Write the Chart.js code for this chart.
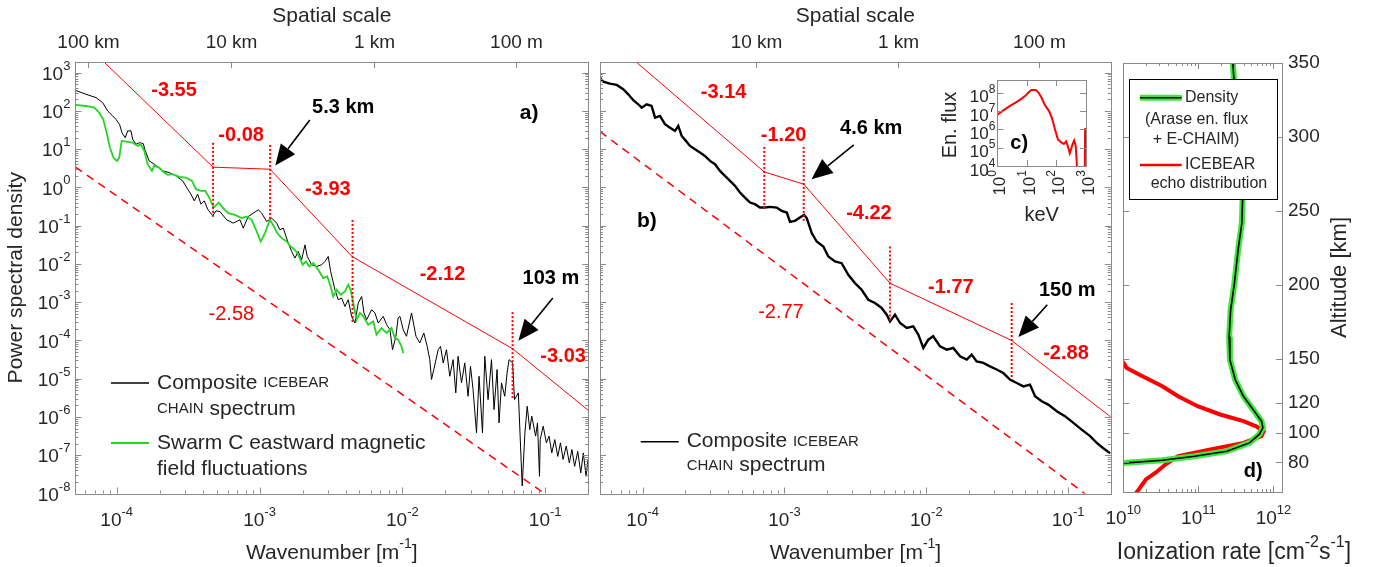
<!DOCTYPE html>
<html>
<head>
<meta charset="utf-8">
<script src="https://cdn.jsdelivr.net/npm/chart.js@4.4.1/dist/chart.umd.min.js"></script>
<style>
  html, body { margin: 0; padding: 0; background: #fff; }
  #wrap { position: relative; width: 1375px; height: 567px; overflow: hidden; background: #fff; }
  canvas { position: absolute; }
</style>
</head>
<body>
<div id="wrap">
  <canvas id="cA" width="595" height="567" style="left:0;top:0"></canvas>
  <canvas id="cB" width="520" height="567" style="left:595px;top:0"></canvas>
  <canvas id="cD" width="287" height="567" style="left:1088px;top:0"></canvas>
  <canvas id="cC" width="155" height="175" style="left:940px;top:60px"></canvas>
</div>
<script>
// ---- data ----
// top axis: spatial scale (wavelength, m) and its labels
const scaleTicksA = [1e5, 1e4, 1e3, 100];
const scaleLabelsA = ['100 km', '10 km', '1 km', '100 m'];
const scaleTicksB = [1e4, 1e3, 100];
const scaleLabelsB = ['10 km', '1 km', '100 m'];

// a) composite ICEBEAR/CHAIN spectrum [wavenumber, PSD]
const psdA = [
  [5.13e-5, 346.7], [6.10e-5, 272.9], [7.16e-5, 223.9], [7.98e-5, 164.8], [8.65e-5, 100], [9.38e-5, 74.1],
  [9.89e-5, 60.3], [1.047e-4, 44.7], [1.089e-4, 26.9], [1.148e-4, 19.95], [1.194e-4, 30.2], [1.259e-4, 30.2],
  [1.294e-4, 18.2], [1.365e-4, 13.49], [1.439e-4, 14.79], [1.535e-4, 14.0], [1.585e-4, 9.04], [1.690e-4, 4.95],
  [1.832e-4, 4.06], [2.099e-4, 2.71], [2.333e-4, 2.45], [2.600e-4, 2.01], [2.897e-4, 1.486], [3.141e-4, 0.902],
  [3.311e-4, 0.668], [3.491e-4, 0.447], [3.690e-4, 0.668], [3.890e-4, 0.366], [4.102e-4, 0.447], [4.335e-4, 0.271],
  [4.699e-4, 0.182], [4.955e-4, 0.245], [5.284e-4, 0.234], [5.888e-4, 0.1426], [6.546e-4, 0.117], [7.295e-4, 0.1426],
  [7.691e-4, 0.0865], [8.337e-4, 0.1738], [9.036e-4, 0.2133], [9.795e-4, 0.26], [1.035e-3, 0.2133], [1.122e-3, 0.1288],
  [1.216e-3, 0.1585], [1.318e-3, 0.117], [1.390e-3, 0.0782], [1.466e-3, 0.0865], [1.589e-3, 0.0352], [1.679e-3, 0.0212],
  [1.770e-3, 0.01426], [1.866e-3, 0.0212], [1.972e-3, 0.01288], [2.080e-3, 0.0316], [2.158e-3, 0.0157], [2.317e-3, 0.00953],
  [2.512e-3, 0.00861], [2.723e-3, 0.00953], [2.871e-3, 0.01161], [3.027e-3, 0.0157], [3.148e-3, 0.00637], [3.373e-3, 0.00212],
  [3.556e-3, 0.00116], [3.758e-3, 0.00129], [3.963e-3, 7.76e-4], [4.178e-3, 1.16e-3], [4.416e-3, 4.27e-4], [4.656e-3, 2.86e-4],
  [4.909e-3, 9.55e-4], [5.188e-3, 1.41e-3], [5.383e-3, 5.25e-4], [5.623e-3, 3.49e-4], [6.095e-3, 6.37e-4], [6.427e-3, 5.25e-4],
  [6.776e-3, 2.86e-4], [7.345e-3, 4.27e-4], [7.762e-3, 2.59e-4], [8.185e-3, 1.91e-4], [8.531e-3, 5.75e-5], [9.016e-3, 1.29e-4],
  [9.333e-3, 3.89e-4], [9.616e-3, 4.27e-4], [1.014e-2, 1.91e-4], [1.069e-2, 1.29e-4], [1.159e-2, 5.25e-4], [1.245e-2, 1.29e-4],
  [1.324e-2, 8.61e-5], [1.413e-2, 1.57e-4], [1.493e-2, 7.01e-5], [1.556e-2, 3.16e-5], [1.600e-2, 9.55e-6], [1.660e-2, 1.74e-5],
  [1.782e-2, 5.75e-5], [1.849e-2, 7.01e-5], [1.932e-2, 2.59e-5], [2.037e-2, 5.75e-5], [2.148e-2, 1.16e-5], [2.265e-2, 3.16e-5],
  [2.366e-2, 4.27e-6], [2.455e-2, 3.85e-5], [2.594e-2, 7.76e-6], [2.735e-2, 2.59e-5], [2.884e-2, 3.47e-6], [2.999e-2, 2.11e-5],
  [3.126e-2, 5.2e-6], [3.304e-2, 3.85e-7], [3.443e-2, 1.16e-5], [3.639e-2, 3.85e-7], [3.776e-2, 3.85e-5], [3.981e-2, 2.84e-6],
  [4.207e-2, 3.16e-5], [4.385e-2, 1.56e-6], [4.603e-2, 1.74e-5], [4.753e-2, 7.01e-7], [4.943e-2, 7.76e-6], [5.212e-2, 3.47e-6],
  [5.408e-2, 1.41e-5], [5.585e-2, 3.16e-5], [5.916e-2, 2.59e-5], [6.095e-2, 2.84e-6], [6.486e-2, 4.27e-6], [6.902e-2, 1.58e-8],
  [7.211e-2, 3.85e-7], [7.482e-2, 1.91e-6], [7.798e-2, 4.68e-7], [8.054e-2, 1.05e-6], [8.570e-2, 3.16e-7], [8.831e-2, 7.01e-7],
  [9.120e-2, 2.82e-8], [9.226e-2, 2.57e-7], [9.683e-2, 5.75e-7], [0.1019, 2.11e-7], [0.1064, 3.16e-7], [0.1112, 1.15e-7],
  [0.1167, 2.57e-7], [0.1225, 9.33e-8], [0.1279, 2.11e-7], [0.1334, 7.76e-8], [0.1403, 1.74e-7], [0.1476, 6.31e-8],
  [0.1538, 1.41e-7], [0.1607, 5.13e-8], [0.1690, 1.26e-7], [0.1774, 3.47e-8], [0.1849, 1.15e-7], [0.1932, 2.82e-8],
  [0.1995, 7.76e-8]
];

// a) Swarm C eastward magnetic field fluctuations
const swarmA = [
  [5.13e-5, 143.5], [6.10e-5, 134.9], [6.97e-5, 121.9], [7.55e-5, 90.2], [8.05e-5, 60.3], [8.51e-5, 26.9],
  [8.97e-5, 10.96], [9.53e-5, 5.82], [1.005e-4, 4.95], [1.042e-4, 6.03], [1.084e-4, 16.48], [1.161e-4, 15.85],
  [1.294e-4, 14.79], [1.403e-4, 12.19], [1.479e-4, 13.49], [1.560e-4, 9.04], [1.648e-4, 4.06], [1.766e-4, 2.71],
  [1.832e-4, 3.66], [1.986e-4, 3.31], [2.153e-4, 2.45], [2.275e-4, 2.14], [2.466e-4, 2.22], [2.742e-4, 1.89],
  [3.055e-4, 1.82], [3.365e-4, 1.486], [3.589e-4, 0.902], [3.890e-4, 0.815], [4.169e-4, 0.815], [4.446e-4, 0.545],
  [4.775e-4, 0.2985], [5.176e-4, 0.4036], [5.572e-4, 0.2884], [6.039e-4, 0.2133], [6.730e-4, 0.1923], [7.499e-4, 0.1585],
  [8.128e-4, 0.1738], [8.810e-4, 0.1426], [9.550e-4, 0.0708], [1.019e-3, 0.0387], [1.091e-3, 0.0641], [1.183e-3, 0.1426],
  [1.262e-3, 0.0955], [1.330e-3, 0.0641], [1.429e-3, 0.0474], [1.549e-3, 0.0387], [1.652e-3, 0.0286], [1.770e-3, 0.0234],
  [1.866e-3, 0.01738], [2.004e-3, 0.00953], [2.113e-3, 0.01161], [2.228e-3, 0.00861], [2.377e-3, 0.01054], [2.576e-3, 0.00705],
  [2.793e-3, 0.00427], [2.979e-3, 0.00472], [3.148e-3, 0.00259], [3.281e-3, 0.00141], [3.467e-3, 0.00212], [3.698e-3, 0.00157],
  [3.963e-3, 0.00192], [4.178e-3, 0.00286], [4.345e-3, 0.00212], [4.529e-3, 9.55e-4], [4.786e-3, 3.49e-4], [5.047e-3, 5.25e-4],
  [5.321e-3, 4.27e-4], [5.754e-3, 2.59e-4], [6.252e-3, 3.16e-4], [6.592e-3, 1.42e-4], [7.145e-3, 2.12e-4], [7.762e-3, 1.57e-4],
  [8.395e-3, 2.12e-4], [8.872e-3, 1.16e-4], [9.333e-3, 1.05e-4], [9.863e-3, 7.01e-5], [1.014e-2, 4.68e-5]
];

// a) fitted power laws: broken line, dotted break markers [k, top, bottom], reference line
const fitA = [[5.14e-5, 1.0e4], [4.73e-4, 3.39], [1.186e-3, 3.0], [4.44e-3, 1.57e-2], [5.91e-2, 6.1e-5], [0.2, 1.5e-6]];
const breaksA = [[4.73e-4, 14.7, 0.17], [1.186e-3, 13, 0.14], [4.48e-3, 0.142, 2.86e-4], [5.91e-2, 5.5e-4, 3.16e-6]];
const refA = [[5.14e-5, 3.4], [0.11, 7.6e-9]];

// b) composite ICEBEAR/CHAIN spectrum
const psdB = [
  [5.0e-5, 741], [5.27e-5, 582], [5.87e-5, 516], [6.56e-5, 479], [7.29e-5, 369], [7.91e-5, 273],
  [8.59e-5, 190.5], [9.31e-5, 149.6], [9.84e-5, 121.9], [1.067e-4, 149.6], [1.156e-4, 134.9], [1.222e-4, 66.8],
  [1.324e-4, 74.1], [1.436e-4, 45.0], [1.560e-4, 36.6], [1.690e-4, 30.1], [1.782e-4, 40.6], [1.884e-4, 22.2],
  [2.018e-4, 16.5], [2.158e-4, 12.2], [2.339e-4, 10.0], [2.535e-4, 8.15], [2.748e-4, 6.68], [2.985e-4, 4.95],
  [3.236e-4, 4.06], [3.508e-4, 2.71], [3.802e-4, 2.01], [4.130e-4, 1.486], [4.477e-4, 1.102], [4.853e-4, 0.736],
  [5.260e-4, 0.545], [5.715e-4, 0.404], [6.194e-4, 0.366], [6.714e-4, 0.2985], [7.295e-4, 0.2985], [7.907e-4, 0.311],
  [8.810e-4, 0.2985], [9.550e-4, 0.245], [1.038e-3, 0.221], [1.094e-3, 0.126], [1.186e-3, 0.134], [1.285e-3, 0.164],
  [1.374e-3, 0.192], [1.435e-3, 0.158], [1.556e-3, 0.0641], [1.687e-3, 0.0387], [1.879e-3, 0.0286], [2.037e-3, 0.0157],
  [2.270e-3, 0.0116], [2.529e-3, 0.0105], [2.818e-3, 5.22e-3], [3.141e-3, 3.16e-3], [3.499e-3, 2.12e-3], [3.899e-3, 1.16e-3],
  [4.345e-3, 9.55e-4], [4.842e-3, 7.08e-4], [5.260e-3, 4.72e-4], [5.546e-3, 3.16e-4], [6.012e-3, 4.72e-4], [6.531e-3, 2.86e-4],
  [7.278e-3, 2.12e-4], [8.091e-3, 2.34e-4], [8.790e-3, 1.42e-4], [9.528e-3, 6.37e-5], [1.033e-2, 1.05e-4], [1.119e-2, 1.29e-4],
  [1.250e-2, 7.01e-5], [1.393e-2, 5.75e-5], [1.549e-2, 6.37e-5], [1.730e-2, 3.85e-5], [1.928e-2, 3.16e-5], [2.089e-2, 4.27e-5],
  [2.265e-2, 2.84e-5], [2.523e-2, 2.59e-5], [2.812e-2, 2.11e-5], [3.133e-2, 1.74e-5], [3.491e-2, 1.41e-5], [3.890e-2, 9.55e-6],
  [4.345e-2, 7.76e-6], [4.831e-2, 6.31e-6], [5.383e-2, 7.01e-6], [5.848e-2, 3.47e-6], [6.516e-2, 2.57e-6], [7.244e-2, 2.11e-6],
  [8.318e-2, 1.41e-6], [9.506e-2, 1.05e-6], [0.1089, 7.01e-7], [0.1247, 4.68e-7], [0.1429, 3.16e-7], [0.1592, 2.11e-7],
  [0.1762, 1.55e-7], [0.1982, 1.12e-7]
];
const fitB = [[5.0e-5, 1.23e4], [7.2e-4, 2.55], [1.366e-3, 1.22], [5.54e-3, 3.16e-3], [4.0e-2, 1.0e-4], [0.2, 1.0e-6]];
const breaksB = [[7.2e-4, 11.5, 0.271], [1.366e-3, 11.5, 0.134], [5.54e-3, 0.0286, 3.16e-4], [4.0e-2, 9.55e-4, 9.55e-6]];
const refB = [[5.0e-5, 28.8], [0.14, 8.3e-9]];

// c) Arase energy flux spectrum [keV, flux]
const fluxC = [
  [1, 6.3e6], [1.6, 1.1e7], [2.5, 1.8e7], [4, 2.8e7], [6.3, 4.5e7], [9, 7e7], [11, 1e8], [14, 1.4e8],
  [20, 1.4e8], [25, 1e8], [32, 5e7], [40, 2.2e7], [56, 1e7], [71, 4e6], [89, 1e6], [112, 2.8e5],
  [141, 2e5], [178, 1.6e5], [214, 2.2e5], [251, 1e5], [282, 5e4], [355, 1.6e5], [398, 2.5e5], [447, 1.3e5],
  [479, 2.5e4], [500, 5e3], [700, null], [912, 5e3], [933, 1.2e6]
];

// d) ionization / density profile and ICEBEAR echo distribution [rate, altitude km]
const altTicks = [80, 100, 120, 150, 200, 250, 300, 350];
const densityD = [
  [2.88e11, 350], [3.0e11, 336.5], [3.34e11, 314], [3.70e11, 300], [3.85e11, 280], [3.89e11, 260],
  [3.80e11, 242], [3.39e11, 224], [3.02e11, 201], [2.69e11, 183], [2.57e11, 165], [2.63e11, 149.5],
  [3.09e11, 136], [3.98e11, 124.7], [5.37e11, 115.7], [6.92e11, 107.9], [7.24e11, 103.4], [6.46e11, 98.9],
  [4.79e11, 93.2], [2.40e11, 87.6], [8.91e10, 84.2], [3.31e10, 81.5], [1.10e10, 79.7], [6.3e9, 79.0]
];
const icebearD = [
  [9.5e9, 149], [1.05e10, 146], [1.1e10, 144], [1.62e10, 139.4], [3.31e10, 131.5], [5.37e10, 124.7],
  [9.77e10, 118], [1.95e11, 112.4], [3.98e11, 107.9], [5.89e11, 104.4], [7.41e11, 101], [6.92e11, 97.7],
  [3.98e11, 93.2], [1.45e11, 88.7], [5.37e10, 84.2], [3.63e10, 78.6], [2.69e10, 73], [2.0e10, 68.5],
  [1.55e10, 60.6], [1.41e10, 58]
];

// ---- styling helpers ----
const FONT = '"Liberation Sans", Arial, Helvetica, sans-serif';
const INK = '#262626';
const AXIS = '#8a8a8a';
const RED = '#ff0000';
const GREEN = '#22d622';
const GREEN_D = '#3ee63e';

function xy(arr) { return arr.map(p => ({ x: p[0], y: p[1] })); }

// Chart.js paints dataset 0 last, so lists below go from top layer to bottom layer
function lineDs(points, color, width, dash) {
  return {
    data: xy(points), showLine: true, borderColor: color, borderWidth: width,
    borderDash: dash || [], pointRadius: 0, fill: false, tension: 0, spanGaps: false
  };
}

function dotted(list) {
  return list.map(d => lineDs([[d[0], d[1]], [d[0], d[2]]], RED, 2, [2, 2]));
}

function logAxis(min, max) {
  return { type: 'logarithmic', display: false, min: min, max: max };
}

function opts(xs, ys, pad) {
  return {
    responsive: false, animation: false, devicePixelRatio: 1, events: [],
    layout: { padding: pad },
    plugins: { legend: { display: false }, tooltip: { enabled: false } },
    scales: { x: xs, y: ys }
  };
}

function logSteps(min, max) {
  const out = [];
  for (let e = Math.floor(Math.log10(min)); e <= Math.ceil(Math.log10(max)); e++) {
    for (let m = 1; m < 10; m++) {
      const v = m * Math.pow(10, e);
      if (v >= min * 0.9999 && v <= max * 1.0001) out.push({ v: v, major: m === 1 });
    }
  }
  return out;
}

function frame(chart, xt, yt, xSides, ySides) {
  const { ctx, chartArea: a, scales: { x, y } } = chart;
  ctx.save();
  ctx.strokeStyle = AXIS; ctx.lineWidth = 1;
  ctx.beginPath();
  xt.forEach(t => {
    const X = Math.round(x.getPixelForValue(t.v)) + 0.5, L = t.major ? 6 : 3;
    if (xSides.includes('b')) { ctx.moveTo(X, a.bottom); ctx.lineTo(X, a.bottom - L); }
    if (xSides.includes('t')) { ctx.moveTo(X, a.top); ctx.lineTo(X, a.top + L); }
  });
  yt.forEach(t => {
    const Y = Math.round(y.getPixelForValue(t.v)) + 0.5, L = t.major ? 6 : 3;
    if (ySides.includes('l')) { ctx.moveTo(a.left, Y); ctx.lineTo(a.left + L, Y); }
    if (ySides.includes('r')) { ctx.moveTo(a.right, Y); ctx.lineTo(a.right - L, Y); }
  });
  ctx.stroke();
  ctx.strokeRect(Math.round(a.left) + 0.5, Math.round(a.top) + 0.5,
    Math.round(a.right) - Math.round(a.left), Math.round(a.bottom) - Math.round(a.top));
  ctx.restore();
}

function rich(ctx, parts, x, y, align, rot, color) {
  ctx.save();
  ctx.translate(x, y);
  if (rot) ctx.rotate(rot);
  ctx.textBaseline = 'middle'; ctx.textAlign = 'left'; ctx.fillStyle = color || INK;
  let w = 0;
  parts.forEach(p => { ctx.font = (p.b ? 'bold ' : '') + p.s + 'px ' + FONT; p.w = ctx.measureText(p.t).width; w += p.w; });
  let cx = align === 'center' ? -w / 2 : align === 'right' ? -w : 0;
  parts.forEach(p => { ctx.font = (p.b ? 'bold ' : '') + p.s + 'px ' + FONT; ctx.fillText(p.t, cx, p.dy || 0); cx += p.w; });
  ctx.restore();
}

function txt(ctx, s, x, y, size, o) {
  o = o || {};
  rich(ctx, [{ t: s, s: size, b: o.bold }], x, y, o.align || 'center', o.rot, o.color);
}

function pow(ctx, e, x, y, align, size, rot) {
  rich(ctx, [{ t: '10', s: size }, { t: String(e), s: Math.round(size * 0.7), dy: -size * 0.45 }], x, y, align, rot);
}

function note(chart, s, xv, yv, size, color, bold) {
  txt(chart.ctx, s, chart.scales.x.getPixelForValue(xv), chart.scales.y.getPixelForValue(yv), size, { color: color, bold: bold });
}

function arrow(chart, x0v, y0v, x1v, y1v) {
  const { ctx, scales: { x, y } } = chart;
  const x0 = x.getPixelForValue(x0v), y0 = y.getPixelForValue(y0v);
  const x1 = x.getPixelForValue(x1v), y1 = y.getPixelForValue(y1v);
  const ang = Math.atan2(y1 - y0, x1 - x0), hl = 21, hw = 9;
  const bx = x1 - hl * Math.cos(ang), by = y1 - hl * Math.sin(ang);
  ctx.save();
  ctx.strokeStyle = '#000'; ctx.lineWidth = 1.6;
  ctx.beginPath(); ctx.moveTo(x0, y0); ctx.lineTo(bx, by); ctx.stroke();
  ctx.fillStyle = '#000';
  ctx.beginPath(); ctx.moveTo(x1, y1);
  ctx.lineTo(bx + hw * Math.sin(ang), by - hw * Math.cos(ang));
  ctx.lineTo(bx - hw * Math.sin(ang), by + hw * Math.cos(ang));
  ctx.closePath(); ctx.fill();
  ctx.restore();
}

function legendLine(ctx, x0, x1, y, color, width) {
  ctx.save(); ctx.strokeStyle = color; ctx.lineWidth = width;
  ctx.beginPath(); ctx.moveTo(x0, y); ctx.lineTo(x1, y); ctx.stroke(); ctx.restore();
}

// shared axes decoration for the two spectrum panels
function spectrumAxes(chart, ticksLam, labelsLam, yLabels) {
  const { ctx, chartArea: a, scales: { x, y } } = chart;
  const xt = logSteps(x.min, x.max), yt = logSteps(y.min, y.max);
  frame(chart, xt, yt, 'b', 'lr');
  ctx.save(); ctx.strokeStyle = AXIS; ctx.beginPath();
  ticksLam.forEach((lam, i) => {
    const X = Math.round(x.getPixelForValue(2 * Math.PI / lam)) + 0.5;
    ctx.moveTo(X, a.top); ctx.lineTo(X, a.top + 6);
    txt(ctx, labelsLam[i], X, 43, 19);
  });
  ctx.stroke(); ctx.restore();
  xt.filter(t => t.major).forEach(t => pow(ctx, Math.round(Math.log10(t.v)), x.getPixelForValue(t.v), a.bottom + 27, 'center', 19));
  if (yLabels) yt.filter(t => t.major).forEach(t => pow(ctx, Math.round(Math.log10(t.v)), a.left - 5, y.getPixelForValue(t.v) + 2, 'right', 19));
  const cx = (a.left + a.right) / 2;
  txt(ctx, 'Spatial scale', cx, 16, 21);
  rich(ctx, [{ t: 'Wavenumber [m', s: 21 }, { t: '-1', s: 14, dy: -9 }, { t: ']', s: 21 }], cx, 553, 'center');
}

function icebearLegend(ctx, a, dx, dy, gap) {
  legendLine(ctx, a.left + dx, a.left + dx + 38, a.top + dy, '#000', 1.5);
  rich(ctx, [{ t: 'Composite ', s: 21 }, { t: 'ICEBEAR', s: 15 }], a.left + dx + 46, a.top + dy, 'left');
  rich(ctx, [{ t: 'CHAIN', s: 15 }, { t: ' spectrum', s: 21 }], a.left + dx + 46, a.top + dy + gap, 'left');
}

const decorators = {
  cA: function (chart) {
    const { ctx, chartArea: a } = chart;
    spectrumAxes(chart, scaleTicksA, scaleLabelsA, true);
    txt(ctx, 'Power spectral density', 16.5, (a.top + a.bottom) / 2, 21, { rot: -Math.PI / 2 });
    note(chart, '-3.55', 2.52e-4, 353, 20, RED, true);
    note(chart, '-0.08', 7.43e-4, 22.6, 20, RED, true);
    note(chart, '-3.93', 3.01e-3, 0.865, 20, RED, true);
    note(chart, '-2.12', 1.91e-2, 5.22e-3, 20, RED, true);
    note(chart, '-3.03', 0.1334, 3.85e-5, 20, RED, true);
    note(chart, '-2.58', 6.35e-4, 4.72e-4, 20, RED, false);
    note(chart, '5.3 km', 3.85e-3, 125, 20, '#000', true);
    note(chart, '103 m', 0.1096, 4.27e-3, 20, '#000', true);
    note(chart, 'a)', 7.71e-2, 87, 21, '#000', true);
    arrow(chart, 2.25e-3, 58.2, 1.29e-3, 3.73);
    arrow(chart, 0.113, 1.29e-3, 6.49e-2, 9.9e-5);
    icebearLegend(ctx, a, 35.6, 321, 26);
    legendLine(ctx, a.left + 35.6, a.left + 73.6, a.top + 381, GREEN, 2);
    txt(ctx, 'Swarm C eastward magnetic', a.left + 81.6, a.top + 381, 21, { align: 'left' });
    txt(ctx, 'field fluctuations', a.left + 81.6, a.top + 407, 21, { align: 'left' });
  },
  cB: function (chart) {
    const { ctx, chartArea: a } = chart;
    spectrumAxes(chart, scaleTicksB, scaleLabelsB, false);
    note(chart, '-3.14', 3.72e-4, 300.6, 20, RED, true);
    note(chart, '-1.20', 9.86e-4, 22.6, 20, RED, true);
    note(chart, '-4.22', 3.94e-3, 0.213, 20, RED, true);
    note(chart, '-1.77', 1.49e-2, 2.49e-3, 20, RED, true);
    note(chart, '-2.88', 9.66e-2, 4.68e-5, 20, RED, true);
    note(chart, '-2.77', 9.44e-4, 5.25e-4, 20, RED, false);
    note(chart, '4.6 km', 4.09e-3, 33.9, 20, '#000', true);
    note(chart, '150 m', 9.86e-2, 2.04e-3, 20, '#000', true);
    note(chart, 'b)', 1.07e-4, 0.129, 21, '#000', true);
    arrow(chart, 3.08e-3, 12.9, 1.55e-3, 1.65);
    arrow(chart, 7.13e-2, 8.6e-4, 4.46e-2, 1.23e-4);
    icebearLegend(ctx, a, 40.7, 379.7, 24);
  },
  cC: function (chart) {
    const { ctx, chartArea: a, scales: { x, y } } = chart;
    const xt = logSteps(x.min, x.max).filter(t => t.major), yt = logSteps(y.min, y.max).filter(t => t.major);
    frame(chart, xt, yt, 'bt', 'lr');
    yt.forEach(t => pow(ctx, Math.round(Math.log10(t.v)), a.left - 2, y.getPixelForValue(t.v) + 5, 'right', 17));
    xt.forEach(t => pow(ctx, Math.round(Math.log10(t.v)), x.getPixelForValue(t.v) + 3, a.bottom + 4, 'right', 17, -Math.PI / 2));
    txt(ctx, 'En. flux', 10.5, (a.top + a.bottom) / 2 + 2, 20, { rot: -Math.PI / 2 });
    txt(ctx, 'keV', (a.left + a.right) / 2, 155, 20);
    note(chart, 'c)', 5.5, 1.6e5, 20, '#000', true);
  },
  cD: function (chart) {
    const { ctx, chartArea: a, scales: { x, y } } = chart;
    const xt = logSteps(x.min, x.max), yt = altTicks.map(v => ({ v: v, major: true }));
    frame(chart, xt, yt, 'bt', 'lr');
    altTicks.forEach(v => txt(ctx, String(v), a.right + 6, y.getPixelForValue(v), 19, { align: 'left' }));
    xt.filter(t => t.major).forEach(t => pow(ctx, Math.round(Math.log10(t.v)), x.getPixelForValue(t.v), a.bottom + 27, 'center', 19));
    txt(ctx, 'Altitude [km]', 252, (a.top + a.bottom) / 2, 22, { rot: -Math.PI / 2 });
    rich(ctx, [{ t: 'Ionization rate [cm', s: 23 }, { t: '-2', s: 16, dy: -10 }, { t: 's', s: 23 }, { t: '-1', s: 16, dy: -10 }, { t: ']', s: 23 }],
      146, 553, 'center');
    note(chart, 'd)', 5.37e11, 74, 20, '#000', true);
    // legend box
    const bx = a.left + 5.7, by = a.top + 16.3;
    ctx.save();
    ctx.fillStyle = '#fff'; ctx.fillRect(bx, by, 147.7, 120);
    ctx.strokeStyle = '#000'; ctx.lineWidth = 1; ctx.strokeRect(Math.round(bx) + 0.5, Math.round(by) + 0.5, 148, 120);
    ctx.restore();
    legendLine(ctx, bx + 11, bx + 52.7, by + 18.4, GREEN_D, 6);
    legendLine(ctx, bx + 11, bx + 52.7, by + 18.4, '#000', 1.6);
    txt(ctx, 'Density', bx + 56, by + 18.4, 16, { align: 'left' });
    txt(ctx, '(Arase en. flux', bx + 16, by + 40.7, 16, { align: 'left' });
    txt(ctx, '+ E-CHAIM)', bx + 23.7, by + 60.7, 16, { align: 'left' });
    legendLine(ctx, bx + 11, bx + 52.7, by + 85.7, RED, 2.5);
    txt(ctx, 'ICEBEAR', bx + 56, by + 85.7, 16, { align: 'left' });
    txt(ctx, 'echo distribution', bx + 21.7, by + 104.7, 16, { align: 'left' });
  }
};

const decoPlugin = {
  id: 'deco',
  beforeDatasetsDraw(chart) {
    if (chart.canvas.id === 'cC') {
      const a = chart.chartArea;
      chart.ctx.save(); chart.ctx.fillStyle = '#fff';
      chart.ctx.fillRect(a.left, a.top, a.right - a.left, a.bottom - a.top); chart.ctx.restore();
    }
  },
  afterDatasetsDraw(chart) { decorators[chart.canvas.id](chart); }
};

// a) spectra (top layer first)
new Chart(document.getElementById('cA'), {
  type: 'scatter',
  data: {
    datasets: [
      ...dotted(breaksA),
      lineDs(fitA, RED, 1),
      lineDs(refA, RED, 1.5, [8, 6]),
      lineDs(swarmA, GREEN, 1.8),
      lineDs(psdA, '#000', 1)
    ]
  },
  options: opts(logAxis(5.14e-5, 0.2), logAxis(1e-8, 1905), { left: 75.4, right: 6.8, top: 62, bottom: 73.5 }),
  plugins: [decoPlugin]
});

// b) spectrum
new Chart(document.getElementById('cB'), {
  type: 'scatter',
  data: {
    datasets: [
      ...dotted(breaksB),
      lineDs(fitB, RED, 1),
      lineDs(refB, RED, 1.5, [8, 6]),
      lineDs(psdB, '#000', 2.4)
    ]
  },
  options: opts(logAxis(5e-5, 0.2), logAxis(1e-8, 1905), { left: 5, right: 4.2, top: 62, bottom: 73.5 }),
  plugins: [decoPlugin]
});

// c) inset energy flux
new Chart(document.getElementById('cC'), {
  type: 'scatter',
  data: { datasets: [lineDs(fluxC, RED, 2)] },
  options: opts(logAxis(1, 1000), logAxis(1e4, 5e8), { left: 57.4, right: 9, top: 20, bottom: 69 }),
  plugins: [decoPlugin]
});

// d) altitude profiles (black core over green band over red)
new Chart(document.getElementById('cD'), {
  type: 'scatter',
  data: {
    datasets: [
      lineDs(densityD, '#000', 1.6),
      lineDs(densityD, GREEN_D, 6),
      lineDs(icebearD, RED, 4)
    ]
  },
  options: opts(logAxis(1e10, 1.3e12), { type: 'linear', display: false, min: 60, max: 350 },
    { left: 35.3, right: 93, top: 63, bottom: 75 }),
  plugins: [decoPlugin]
});
</script>
</body>
</html>
